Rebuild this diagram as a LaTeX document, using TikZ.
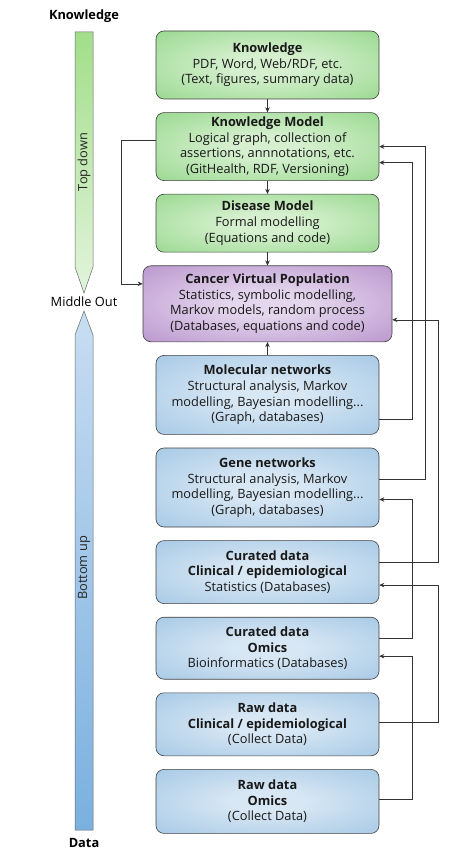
\documentclass[tikz,border=0pt]{standalone}
\usepackage{fontspec}
\setmainfont{Open Sans}
\usetikzlibrary{positioning,arrows.meta}

\definecolor{greenDark}{HTML}{8DD483}
\definecolor{greenLight}{HTML}{D6F0CF}
\definecolor{purpleDark}{HTML}{B189C7}
\definecolor{purpleLight}{HTML}{E4D6ED}
\definecolor{blueDark}{HTML}{9DC3E2}
\definecolor{blueLight}{HTML}{D8E7F4}
\definecolor{barGreenTop}{HTML}{A2DE89}
\definecolor{barGreenBot}{HTML}{E2F4DC}
\definecolor{barBlueTop}{HTML}{C8DDF2}
\definecolor{barBlueBot}{HTML}{7AB0DF}

\pgfdeclareradialshading{greenglow}{\pgfpoint{0bp}{0bp}}{color(0bp)=(greenLight); color(8bp)=(greenLight); color(42bp)=(greenDark); color(100bp)=(greenDark)}
\pgfdeclareradialshading{purpleglow}{\pgfpoint{0bp}{0bp}}{color(0bp)=(purpleLight); color(8bp)=(purpleLight); color(42bp)=(purpleDark); color(100bp)=(purpleDark)}
\pgfdeclareradialshading{blueglow}{\pgfpoint{0bp}{0bp}}{color(0bp)=(blueLight); color(8bp)=(blueLight); color(42bp)=(blueDark); color(100bp)=(blueDark)}

\tikzset{
  box/.style={draw=black!75, line width=0.6pt, rounded corners=8pt, align=center,
    minimum width=223pt, inner sep=2pt, text=black!90,
    font=\fontsize{12.8}{15.6}\selectfont},
  greenbox/.style={box, shade, shading=greenglow},
  purplebox/.style={box, shade, shading=purpleglow, minimum width=249pt},
  bluebox/.style={box, shade, shading=blueglow},
  link/.style={draw=black!80, line width=0.6pt, -{Stealth[length=5pt,width=4.5pt]}},
  sidelabel/.style={font=\fontsize{12.8}{15}\selectfont, text=black},
}

\begin{document}
\begin{tikzpicture}[x=1pt,y=-1pt,node distance=13pt]
\useasboundingbox (0,0) rectangle (453,866);

% side bars
\shade[top color=barGreenTop, bottom color=barGreenBot, draw=black!60, line width=0.5pt]
  (75,32) -- (93,32) -- (93,267) -- (84,293) -- (75,267) -- cycle;
\shade[top color=barBlueTop, bottom color=barBlueBot, draw=black!60, line width=0.5pt]
  (84,311) -- (93,335) -- (93,830) -- (75,830) -- (75,335) -- cycle;
\node[sidelabel, font=\fontsize{12.8}{15}\selectfont\bfseries] (knowtop) at (84,16) {Knowledge};
\node[sidelabel] (middle) at (84,302) {Middle Out};
\node[sidelabel, font=\fontsize{12.8}{15}\selectfont\bfseries] (data) at (84,843) {Data};
\node[sidelabel, rotate=90, text=black!85] (topdown) at (84,162) {Top down};
\node[sidelabel, rotate=90, text=black!85] (bottomup) at (84,568) {Bottom up};

% boxes
\node[greenbox, minimum height=68pt] (know) at (267.5,65) {\textbf{Knowledge}\\PDF, Word, Web/RDF, etc.\\(Text, figures, summary data)};
\node[greenbox, minimum height=68pt, below=of know] (km) {\textbf{Knowledge Model}\\Logical graph, collection of\\assertions, annnotations, etc.\\(GitHealth, RDF, Versioning)};
\node[greenbox, minimum height=58pt, below=of km] (dm) {\textbf{Disease Model}\\Formal modelling\\(Equations and code)};
\node[purplebox, minimum height=76pt, below=of dm] (cvp) {\textbf{Cancer Virtual Population}\\Statistics, symbolic modelling,\\Markov models, random process\\(Databases, equations and code)};
\node[bluebox, minimum height=79pt, below=of cvp] (mol) {\textbf{Molecular networks}\\Structural analysis, Markov\\modelling, Bayesian modelling...\\(Graph, databases)};
\node[bluebox, minimum height=79pt, below=of mol] (gene) {\textbf{Gene networks}\\Structural analysis, Markov\\modelling, Bayesian modelling...\\(Graph, databases)};
\node[bluebox, minimum height=63pt, below=of gene] (curclin) {\textbf{Curated data}\\\textbf{Clinical / epidemiological}\\Statistics (Databases)};
\node[bluebox, minimum height=62pt, below=of curclin] (curomics) {\textbf{Curated data}\\\textbf{Omics}\\Bioinformatics (Databases)};
\node[bluebox, minimum height=63pt, below=of curomics] (rawclin) {\textbf{Raw data}\\\textbf{Clinical / epidemiological}\\(Collect Data)};
\node[bluebox, minimum height=64pt, below=of rawclin] (rawomics) {\textbf{Raw data}\\\textbf{Omics}\\(Collect Data)};

% straight links
\draw[link] (know) -- (km);
\draw[link] (km) -- (dm);
\draw[link] (dm) -- (cvp);
\draw[link] (mol) -- (cvp);

% loops
\draw[link] ([yshift=6pt]km.west) -- ++(-34pt,0) |- ([yshift=20pt]cvp.west);
\draw[link] ([yshift=-24pt]mol.east) -- ++(33pt,0) |- ([yshift=-16pt]km.east);
\draw[link] ([yshift=8pt]gene.east) -- ++(46pt,0) |- (km.east);
\draw[link] ([yshift=10pt]curclin.east) -- ++(59pt,0) |- ([yshift=-16pt]cvp.east);
\draw[link] ([yshift=10pt]curomics.east) -- ++(33pt,0) |- ([yshift=-12pt]gene.east);
\draw[link] ([yshift=2pt]rawclin.east) -- ++(59pt,0) |- ([yshift=-13pt]curclin.east);
\draw[link] ([yshift=2pt]rawomics.east) -- ++(33pt,0) |- ([yshift=-8pt]curomics.east);
\end{tikzpicture}
\end{document}
